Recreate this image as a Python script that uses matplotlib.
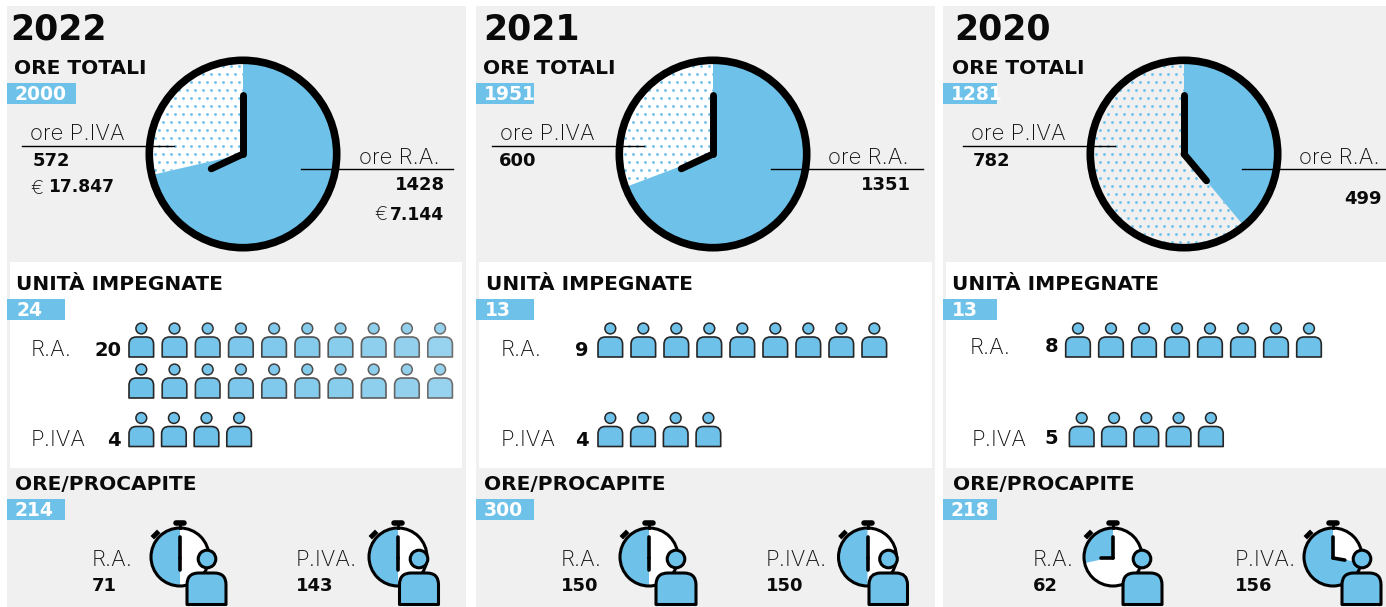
import numpy as np
import matplotlib
matplotlib.use('Agg')
import matplotlib.pyplot as plt
from matplotlib.patches import Rectangle, Wedge, Circle, PathPatch
from matplotlib.path import Path

# dati
anni = ['2022', '2021', '2020']
ore_totali = [2000, 1951, 1281]
ore_ra = [1428, 1351, 499]
ore_piva = [572, 600, 782]
euro_ra = ['7.144', None, None]
euro_piva = ['17.847', None, None]
unita_totali = [24, 13, 13]
unita_ra = [20, 9, 8]
unita_piva = [4, 4, 5]
procapite_totale = [214, 300, 218]
procapite_ra = [71, 150, 62]
procapite_piva = [143, 150, 156]
# quota colorata dei cronometri
quota_crono_ra = [0.5, 0.5, 0.284]
quota_crono_piva = [0.5, 0.5, 0.716]

BLU = '#6ec1e9'
GRIGIO = '#f0f0f0'
NERO = '#0a0a0a'
BOLD = 'DejaVu Sans'
LIGHT = 'Inter'

# layout, un dizionario per colonna (pixel)
colonne = [
    dict(x0=7, x1=466, box0=10, box1=462, pie=243, dot_bg='white', fade=0.28,
         title=10, tot=14, badge_w=[69, 58, 58], unit=16, proc=15, badge_txt=15,
         lab_piva=30, num_piva=33, lab_ra=440, num_ra=445, y_ra=191.5, hand=245,
         r_lab=31, r_num=122, p_lab=31, p_num=121, y_rlab=357, y_plab=447,
         x_ra=141.3, x_piva=141.3, step_ra=33.2, step_piva=32.6,
         c_ra=180, c_piva=398, dx_ra=(27, 7, 46), dx_piva=(21, 1.5, 40.5),
         t_ra=92, t_piva=296, hour=(180, 180)),
    dict(x0=476, x1=935, box0=479, box1=932, pie=713, dot_bg='white', fade=0,
         title=483, tot=483, badge_w=[58, 58, 58], unit=486, proc=484, badge_txt=484,
         lab_piva=500, num_piva=499, lab_ra=909, num_ra=911, y_ra=191.5, hand=245,
         r_lab=501, r_num=589, p_lab=501, p_num=589, y_rlab=357, y_plab=447,
         x_ra=610.3, x_piva=610.3, step_ra=33, step_piva=32.7,
         c_ra=649, c_piva=867.5, dx_ra=(27, 7, 47), dx_piva=(21, 1.5, 40),
         t_ra=561, t_piva=766, hour=(180, 180)),
    dict(x0=943, x1=1386, box0=946, box1=1386, pie=1184, dot_bg=GRIGIO, fade=0,
         title=954, tot=952, badge_w=[54, 54, 54], unit=952, proc=953, badge_txt=951,
         lab_piva=971, num_piva=973, lab_ra=1380, num_ra=1382, y_ra=205, hand=140,
         r_lab=970, r_num=1058, p_lab=972, p_num=1058, y_rlab=354, y_plab=446,
         x_ra=1078, x_piva=1081.7, step_ra=33, step_piva=32.3,
         c_ra=1113, c_piva=1333, dx_ra=(29, 10, 49), dx_piva=(29, 9, 48),
         t_ra=1033, t_piva=1235, hour=(270, 100)),
]

fig = plt.figure(figsize=(13.86, 6.07), dpi=100)
ax = fig.add_axes([0, 0, 1, 1])
ax.set_xlim(0, 1386)
ax.set_ylim(607, 0)
ax.axis('off')


def testo_b(x, y, s, size=13, ha='left', color=NERO):
    ax.text(x, y - 1.5, str(s), fontsize=size, fontweight='bold', family=BOLD, ha=ha, va='baseline', color=color, zorder=10)


def testo_l(x, y, s, size=16, ha='left'):
    ax.text(x, y - 0.5, s, fontsize=size, fontweight='light', family=LIGHT, ha=ha, va='baseline', color='#111111', zorder=10)


def badge(x, y, w, s, xt):
    ax.add_patch(Rectangle((x, y), w, 21, fc=BLU, ec='none', zorder=3))
    testo_b(xt, y + 18, s, size=13.5, color='white')


def corpo(x0, x1, y0, y1, fc, ec, lw):
    r = (x1 - x0) * 0.3
    verts = [(x0, y1), (x0, y0 + r), (x0, y0), (x0 + r, y0), (x1 - r, y0), (x1, y0), (x1, y0 + r), (x1, y1), (x0, y1)]
    codes = [Path.MOVETO, Path.LINETO, Path.CURVE3, Path.CURVE3, Path.LINETO, Path.CURVE3, Path.CURVE3, Path.LINETO, Path.CLOSEPOLY]
    ax.add_patch(PathPatch(Path(verts, codes), fc=fc, ec=ec, lw=lw, joinstyle='round', zorder=7))


def omino(x, y, fade=0.0):
    # y = base del corpo
    rgb = np.array(matplotlib.colors.to_rgb(BLU))
    col = rgb + (1 - rgb) * fade
    ec = str(round(0.15 + fade, 2))
    corpo(x - 12.3, x + 12.3, y - 20, y, col, ec, 1.2)
    ax.add_patch(Circle((x, y - 28.5), 5.4, fc=col, ec=ec, lw=1.1, zorder=7))


def orologio(c, ra, hand):
    cy = 154
    quota = ra[0] / (ra[0] + ra[1])
    fondo = Circle((c, cy), 93.5, fc=hand[1], ec='none', zorder=4)
    ax.add_patch(fondo)
    # puntini sulla parte P.IVA
    gx, gy = np.meshgrid(np.arange(-96, 97, 8.0), np.arange(-96, 97, 8.0))
    gx = gx + (np.arange(gx.shape[0]) % 2)[:, None] * 4
    spicchio_p = Wedge((c, cy), 91, -90 + 360 * quota, 270, fc='none', ec='none', zorder=4)
    ax.add_patch(spicchio_p)
    pts = ax.scatter(gx.ravel() + c, gy.ravel() + cy, s=4.2, c=BLU, linewidths=0, zorder=5)
    pts.set_clip_path(spicchio_p)
    ax.add_patch(Wedge((c, cy), 91, -90, -90 + 360 * quota, fc=BLU, ec='none', zorder=5))
    ax.add_patch(Circle((c, cy), 93.7, fc='none', ec='black', lw=5.5, zorder=6))
    # lancette
    ax.plot([c, c], [cy, cy - 59], color='black', lw=5, solid_capstyle='round', zorder=8)
    a = np.radians(hand[0])
    ax.plot([c, c + 35 * np.sin(a)], [cy, cy - 35 * np.cos(a)], color='black', lw=5, solid_capstyle='round', zorder=8)


def crono(c, quota, hour, dx):
    cy = 557
    ax.add_patch(Circle((c, cy), 29, fc='white', ec='none', zorder=4))
    ax.add_patch(Wedge((c, cy), 29, -90 - 360 * quota, -90, fc=BLU, ec='none', zorder=5))
    ax.add_patch(Circle((c, cy), 29, fc='none', ec='black', lw=2.2, zorder=6))
    # corona e pulsante
    ax.plot([c - 4, c + 4], [523, 523], color='black', lw=4, solid_capstyle='round', zorder=6)
    ax.plot([c, c], [523, 528], color='black', lw=2, zorder=6)
    ax.plot([c - 26, c - 23], [cy - 21, cy - 24], color='black', lw=3.5, zorder=6)
    # lancette
    ax.plot([c, c], [cy + 1, cy - 20], color='black', lw=2.6, solid_capstyle='round', zorder=6)
    a = np.radians(hour)
    ax.plot([c, c + 12 * np.sin(a)], [cy + 1, cy + 1 - 12 * np.cos(a)], color='black', lw=2.6, solid_capstyle='round', zorder=6)
    # persona davanti
    ax.add_patch(Circle((c + dx[0], cy + 2), 8.8, fc=BLU, ec='black', lw=2.2, zorder=7))
    corpo(c + dx[1], c + dx[2], cy + 16, cy + 47.5, BLU, 'black', 2.2)


for i, k in enumerate(colonne):
    ax.add_patch(Rectangle((k['x0'], 6), k['x1'] - k['x0'], 601, fc=GRIGIO, ec='none', zorder=0))
    ax.add_patch(Rectangle((k['box0'], 262), k['box1'] - k['box0'], 206, fc='white', ec='none', zorder=1))

    # ore totali
    testo_b(k['title'], 40.5, anni[i], size=25)
    testo_b(k['tot'], 76, 'ORE TOTALI', size=14.5)
    badge(k['x0'], 83, k['badge_w'][0], ore_totali[i], k['badge_txt'])
    orologio(k['pie'], (ore_ra[i], ore_piva[i]), (k['hand'], k['dot_bg']))

    ax.plot([k['pie'] - 221, k['pie'] - 69], [145.5, 145.5], color='black', lw=1, zorder=9)
    ax.plot([k['pie'] + 58, min(k['pie'] + 210, 1386)], [169, 169], color='black', lw=1, zorder=9)
    testo_l(k['lab_piva'], 140, 'ore P.IVA')
    testo_b(k['num_piva'], 167, ore_piva[i])
    testo_l(k['lab_ra'], 165, 'ore R.A.', ha='right')
    testo_b(k['num_ra'], k['y_ra'], ore_ra[i], ha='right')
    if euro_piva[i]:
        testo_l(k['lab_piva'], 194, '€', size=14)
        testo_b(k['lab_piva'] + 18, 194, euro_piva[i], size=12.3)
    if euro_ra[i]:
        testo_l(k['num_ra'] - 71, 221, '€', size=14)
        testo_b(k['num_ra'] - 1, 221, euro_ra[i], size=12.3, ha='right')

    # unita impegnate
    testo_b(k['unit'], 292, 'UNITÀ IMPEGNATE', size=14.5)
    badge(k['x0'], 299, k['badge_w'][1], unita_totali[i], k['badge_txt'] + 1)
    testo_l(k['r_lab'], k['y_rlab'], 'R.A.')
    testo_b(k['r_num'], k['y_rlab'], unita_ra[i], size=14, ha='right')
    testo_l(k['p_lab'], k['y_plab'], 'P.IVA')
    testo_b(k['p_num'], k['y_plab'], unita_piva[i], size=14, ha='right')
    for n in range(unita_ra[i]):
        riga, pos = n // 10, n % 10
        omino(k['x_ra'] + pos * k['step_ra'], 357 + riga * 41, k['fade'] * pos / 9)
    for n in range(unita_piva[i]):
        omino(k['x_piva'] + n * k['step_piva'], 446.5)

    # ore procapite
    testo_b(k['proc'], 492, 'ORE/PROCAPITE', size=14.5)
    badge(k['x0'], 499, k['badge_w'][2], procapite_totale[i], k['badge_txt'])
    testo_l(k['t_ra'], 566.5, 'R.A.')
    testo_b(k['t_ra'], 592.5, procapite_ra[i])
    testo_l(k['t_piva'], 566.5, 'P.IVA.')
    testo_b(k['t_piva'], 592.5, procapite_piva[i])
    crono(k['c_ra'], quota_crono_ra[i], k['hour'][0], k['dx_ra'])
    crono(k['c_piva'], quota_crono_piva[i], k['hour'][1], k['dx_piva'])

fig.savefig('out.png', dpi=100)
